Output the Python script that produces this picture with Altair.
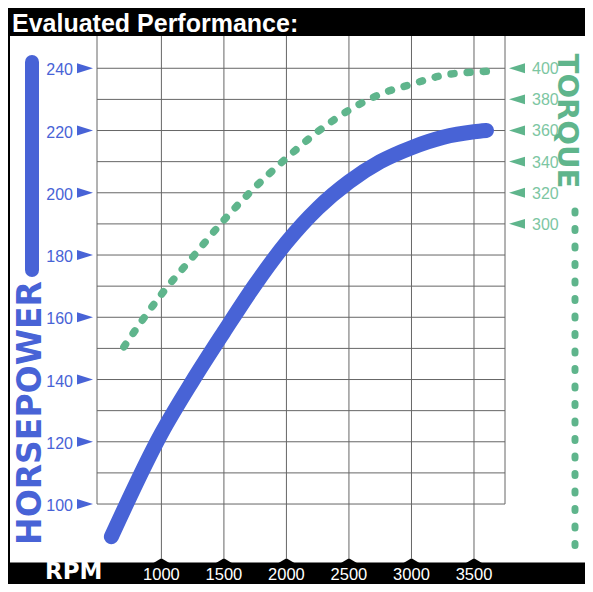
import altair as alt
import pandas as pd

# ---- data ----
rpm_hp = [600, 1000, 1250, 1500, 1750, 2000, 2250, 2500, 2750, 3000, 3250, 3500, 3600]
hp = [89.5, 122.7, 139.6, 155.3, 170.5, 184, 195, 203.5, 210, 214.5, 217.8, 219.6, 220]
rpm_tq = [700, 1000, 1250, 1500, 1750, 2000, 2250, 2500, 2750, 3000, 3250, 3500, 3600]
torque = [221, 254.7, 278.7, 302.4, 323.6, 342.2, 359.2, 373, 383.3, 389.7, 395.4, 397.6, 398]
rpm_ticks = [1000, 1500, 2000, 2500, 3000, 3500]
hp_ticks = [100, 120, 140, 160, 180, 200, 220, 240]
tq_ticks = [300, 320, 340, 360, 380, 400]
hp_grid = [100, 110, 120, 130, 140, 150, 160, 170, 180, 190, 200, 210, 220, 230, 240]
header_text = "Evaluated Performance:"
x_title = "RPM"
left_title = "HORSEPOWER"
right_title = "TORQUE"

BLUE = "#4863d6"
GREEN = "#5fb58c"
GREEN_LABEL = "#7cc6a2"
GRID = "#666666"

W, H = 408, 522
xs = alt.Scale(domain=[485, 3748], nice=False, zero=False)
hps = alt.Scale(domain=[82.66, 250.37], nice=False, zero=False)
tqs = alt.Scale(domain=[85.3, 420.7], nice=False, zero=False)

one = pd.DataFrame({"k": [0]})
df_hp = pd.DataFrame({"rpm": rpm_hp, "hp": hp})
df_tq = pd.DataFrame({"rpm": rpm_tq, "tq": torque})
df_rt = pd.DataFrame({"rpm": rpm_ticks, "lab": [str(v) for v in rpm_ticks]})
df_ht = pd.DataFrame({"v": hp_ticks, "lab": [str(v) for v in hp_ticks]})
df_tt = pd.DataFrame({"v": tq_ticks, "lab": [str(v) for v in tq_ticks]})
df_hg = pd.DataFrame({"v": hp_grid})

# header
header_rect = alt.Chart(one).mark_rect(color="black").encode(
    x=alt.value(-89), x2=alt.value(488), y=alt.value(-28), y2=alt.value(0))
header_txt = alt.Chart(one).mark_text(
    text=header_text, color="white", font="Liberation Sans", fontWeight="bold",
    fontSize=25, align="left", baseline="alphabetic").encode(
    x=alt.value(-85), y=alt.value(-4))
left_edge = alt.Chart(one).mark_rule(color="black", strokeWidth=2).encode(
    x=alt.value(-88), y=alt.value(-28), y2=alt.value(548))

# footer
footer_rect = alt.Chart(one).mark_rect(color="black").encode(
    x=alt.value(-89), x2=alt.value(488), y=alt.value(526.5), y2=alt.value(548))
footer_tri = alt.Chart(df_rt).mark_point(
    shape="M-1,0.2L0,-0.4L1,0.2Z", size=676, filled=True, color="black", opacity=1,
    strokeWidth=0).encode(
    x=alt.X("rpm:Q", scale=xs, axis=None), y=alt.value(527.5))
footer_lab = alt.Chart(df_rt).mark_text(
    color="white", font="Liberation Sans", fontSize=16.5, align="center",
    baseline="alphabetic").encode(
    x=alt.X("rpm:Q", scale=xs, axis=None), y=alt.value(544), text="lab:N")
rpm_txt = alt.Chart(one).mark_text(
    text=x_title, color="white", font="DejaVu Sans", fontWeight="bold",
    fontSize=23, align="left", baseline="bottom").encode(
    x=alt.value(-52), y=alt.value(548))

# grid
hgrid = alt.Chart(df_hg).mark_rule(color=GRID, strokeWidth=1).encode(
    y=alt.Y("v:Q", scale=hps, axis=None), x=alt.value(0), x2=alt.value(W))
vgrid = alt.Chart(df_rt).mark_rule(color=GRID, strokeWidth=1).encode(
    x=alt.X("rpm:Q", scale=xs, axis=None), y=alt.value(0), y2=alt.value(H))
borders = alt.Chart(pd.DataFrame({"b": [485, 3748]})).mark_rule(
    color=GRID, strokeWidth=1).encode(
    x=alt.X("b:Q", scale=xs, axis=None),
    y=alt.Y(datum=100, scale=hps, axis=None), y2=alt.value(0))

# data lines
hp_line = alt.Chart(df_hp).mark_line(
    color=BLUE, strokeWidth=15, strokeCap="round", interpolate="monotone").encode(
    x=alt.X("rpm:Q", scale=xs, axis=None), y=alt.Y("hp:Q", scale=hps, axis=None))
tq_line = alt.Chart(df_tq).mark_line(
    color=GREEN, strokeWidth=7.5, strokeCap="round", strokeDash=[3, 13.2],
    interpolate="monotone").encode(
    x=alt.X("rpm:Q", scale=xs, axis=None), y=alt.Y("tq:Q", scale=tqs, axis=None))

# left axis
hp_lab = alt.Chart(df_ht).mark_text(
    color=BLUE, font="Liberation Sans", fontSize=16, align="right",
    baseline="middle", dy=2).encode(
    x=alt.value(-24), y=alt.Y("v:Q", scale=hps, axis=None), text="lab:N")
hp_tri = alt.Chart(df_ht).mark_point(
    shape="M-1,-0.62L1,0L-1,0.62Z", size=256, filled=True, color=BLUE, opacity=1,
    strokeWidth=0).encode(
    x=alt.value(-12), y=alt.Y("v:Q", scale=hps, axis=None))

# right axis
tq_lab = alt.Chart(df_tt).mark_text(
    color=GREEN_LABEL, font="Liberation Sans", fontSize=16, align="left",
    baseline="middle", dy=1).encode(
    x=alt.value(435), y=alt.Y("v:Q", scale=tqs, axis=None), text="lab:N")
tq_tri = alt.Chart(df_tt).mark_point(
    shape="M1,-0.62L-1,0L1,0.62Z", size=256, filled=True, color=GREEN, opacity=1,
    strokeWidth=0).encode(
    x=alt.value(420), y=alt.Y("v:Q", scale=tqs, axis=None))

# titles / legend swatches
hp_title = alt.Chart(one).mark_text(
    text=left_title, color=BLUE, font="DejaVu Sans", fontWeight="bold",
    fontSize=33, angle=270, align="center", baseline="middle").encode(
    x=alt.value(-66), y=alt.value(377))
hp_bar = alt.Chart(one).mark_rule(color=BLUE, strokeWidth=14, strokeCap="round").encode(
    x=alt.value(-65), y=alt.value(26), y2=alt.value(234))
tq_title = alt.Chart(one).mark_text(
    text=right_title, color=GREEN, font="DejaVu Sans", fontWeight="bold",
    fontSize=29, angle=90, align="center", baseline="middle").encode(
    x=alt.value(470), y=alt.value(85))
tq_dots = alt.Chart(one).mark_rule(
    color=GREEN, strokeWidth=7, strokeCap="round", strokeDash=[2, 15.5]).encode(
    x=alt.value(478), y=alt.value(175), y2=alt.value(511))

chart = alt.layer(
    hgrid, vgrid, borders,
    footer_rect, footer_tri, footer_lab, rpm_txt,
    header_rect, header_txt, left_edge,
    tq_line, hp_line,
    hp_lab, hp_tri, tq_lab, tq_tri,
    hp_bar, hp_title, tq_title, tq_dots,
).resolve_scale(y="independent").properties(
    width=W, height=H,
    padding={"left": 89, "right": 80, "top": 28, "bottom": 26},
    autosize=alt.AutoSizeParams(type="none"),
    background="white",
).configure_view(stroke=None)

chart.save("out.html", embed_options={"renderer": "svg", "actions": False})
